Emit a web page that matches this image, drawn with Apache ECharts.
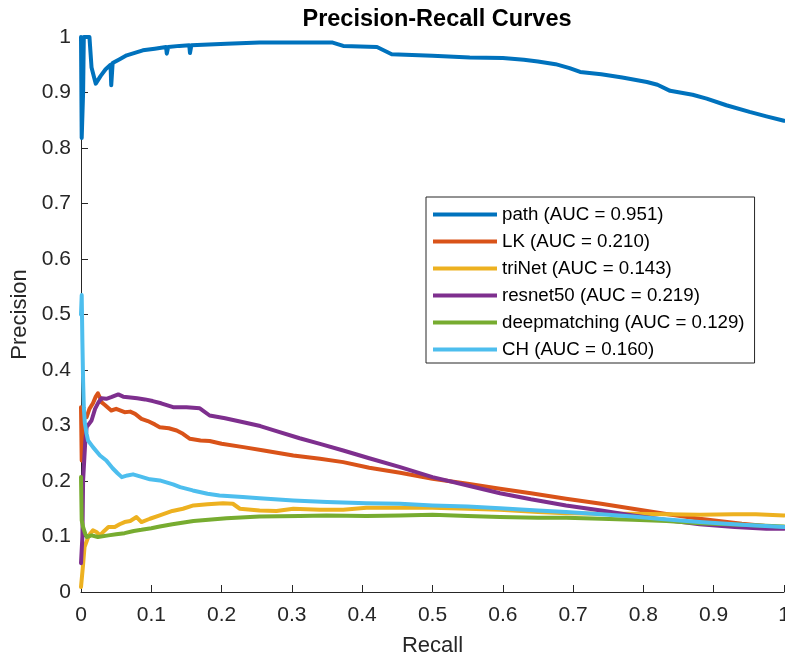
<!DOCTYPE html>
<html>
<head>
<meta charset="utf-8">
<script src="https://cdn.jsdelivr.net/npm/echarts@6/dist/echarts.min.js"></script>
<style>
  html, body { margin: 0; padding: 0; background: #ffffff; }
  #chart { width: 785px; height: 658px; }
</style>
</head>
<body>
<div id="chart"></div>
<script>
// Precision-recall curves: [recall, precision] pairs per method
const pathPR = [[0.000,1.000],[0.001,0.818],[0.003,0.900],[0.004,1.000],[0.012,1.000],[0.015,0.945],[0.018,0.930],[0.021,0.916],[0.028,0.930],[0.035,0.942],[0.042,0.950],[0.043,0.913],[0.045,0.953],[0.055,0.960],[0.065,0.967],[0.088,0.976],[0.105,0.979],[0.121,0.982],[0.122,0.970],[0.124,0.982],[0.140,0.984],[0.154,0.985],[0.155,0.971],[0.157,0.985],[0.207,0.988],[0.254,0.990],[0.300,0.990],[0.358,0.990],[0.373,0.984],[0.421,0.982],[0.442,0.969],[0.500,0.966],[0.553,0.963],[0.600,0.962],[0.630,0.959],[0.650,0.956],[0.675,0.951],[0.695,0.944],[0.710,0.937],[0.740,0.933],[0.770,0.927],[0.805,0.919],[0.820,0.914],[0.838,0.903],[0.870,0.896],[0.890,0.889],[0.918,0.877],[0.951,0.865],[0.975,0.857],[1.000,0.849]];
const lkPR = [[0.000,0.333],[0.001,0.237],[0.003,0.300],[0.005,0.320],[0.008,0.315],[0.012,0.330],[0.017,0.340],[0.021,0.352],[0.024,0.358],[0.027,0.350],[0.029,0.342],[0.034,0.337],[0.043,0.327],[0.050,0.330],[0.062,0.324],[0.070,0.325],[0.077,0.321],[0.086,0.312],[0.095,0.308],[0.105,0.302],[0.112,0.297],[0.125,0.295],[0.136,0.291],[0.145,0.285],[0.155,0.276],[0.170,0.273],[0.183,0.272],[0.200,0.267],[0.231,0.261],[0.260,0.255],[0.302,0.246],[0.340,0.240],[0.373,0.234],[0.410,0.224],[0.454,0.215],[0.500,0.204],[0.550,0.195],[0.596,0.186],[0.640,0.178],[0.690,0.168],[0.740,0.159],[0.785,0.150],[0.830,0.141],[0.880,0.132],[0.940,0.123],[1.000,0.116]];
const triNetPR = [[0.000,0.009],[0.003,0.050],[0.005,0.081],[0.010,0.098],[0.013,0.105],[0.017,0.111],[0.022,0.108],[0.027,0.102],[0.033,0.110],[0.039,0.117],[0.048,0.117],[0.055,0.122],[0.062,0.126],[0.070,0.128],[0.079,0.135],[0.086,0.126],[0.098,0.132],[0.112,0.138],[0.130,0.146],[0.145,0.150],[0.160,0.156],[0.180,0.158],[0.202,0.160],[0.216,0.159],[0.226,0.150],[0.254,0.147],[0.278,0.146],[0.302,0.150],[0.340,0.148],[0.373,0.148],[0.406,0.152],[0.454,0.152],[0.500,0.152],[0.550,0.150],[0.596,0.148],[0.650,0.144],[0.690,0.142],[0.740,0.141],[0.785,0.141],[0.833,0.140],[0.880,0.139],[0.928,0.140],[0.960,0.140],[1.000,0.138]];
const resnet50PR = [[0.000,0.052],[0.002,0.100],[0.003,0.201],[0.006,0.270],[0.008,0.297],[0.015,0.309],[0.020,0.330],[0.025,0.342],[0.029,0.349],[0.036,0.348],[0.043,0.351],[0.053,0.356],[0.060,0.352],[0.067,0.351],[0.080,0.349],[0.091,0.347],[0.102,0.344],[0.114,0.340],[0.131,0.333],[0.150,0.333],[0.169,0.331],[0.183,0.318],[0.205,0.313],[0.231,0.306],[0.255,0.299],[0.278,0.290],[0.311,0.277],[0.340,0.267],[0.373,0.255],[0.410,0.241],[0.454,0.225],[0.500,0.207],[0.550,0.192],[0.596,0.178],[0.640,0.167],[0.690,0.156],[0.740,0.147],[0.785,0.138],[0.830,0.130],[0.880,0.122],[0.930,0.117],[0.975,0.114],[1.000,0.114]];
const deepmatchingPR = [[0.000,0.207],[0.001,0.129],[0.003,0.117],[0.006,0.105],[0.008,0.099],[0.015,0.102],[0.024,0.099],[0.039,0.102],[0.050,0.104],[0.062,0.106],[0.075,0.110],[0.086,0.112],[0.100,0.115],[0.112,0.118],[0.130,0.122],[0.160,0.128],[0.207,0.133],[0.254,0.136],[0.311,0.137],[0.349,0.138],[0.406,0.137],[0.454,0.138],[0.500,0.139],[0.550,0.137],[0.596,0.135],[0.650,0.134],[0.690,0.134],[0.740,0.132],[0.785,0.130],[0.833,0.128],[0.880,0.124],[0.940,0.121],[1.000,0.118]];
const chPR = [[0.000,0.500],[0.001,0.535],[0.002,0.450],[0.003,0.380],[0.004,0.333],[0.0055,0.304],[0.008,0.285],[0.010,0.273],[0.017,0.261],[0.027,0.246],[0.036,0.237],[0.045,0.223],[0.052,0.214],[0.058,0.207],[0.066,0.210],[0.074,0.212],[0.085,0.208],[0.098,0.203],[0.112,0.201],[0.131,0.194],[0.141,0.189],[0.159,0.183],[0.180,0.177],[0.197,0.174],[0.230,0.171],[0.254,0.169],[0.302,0.165],[0.350,0.162],[0.406,0.160],[0.454,0.159],[0.500,0.156],[0.550,0.154],[0.596,0.151],[0.650,0.147],[0.690,0.144],[0.740,0.140],[0.785,0.136],[0.830,0.131],[0.880,0.126],[0.940,0.121],[1.000,0.117]];

const seriesNames = ['path (AUC = 0.951)', 'LK (AUC = 0.210)', 'triNet (AUC = 0.143)',
  'resnet50 (AUC = 0.219)', 'deepmatching (AUC = 0.129)', 'CH (AUC = 0.160)'];
const seriesData = [pathPR, lkPR, triNetPR, resnet50PR, deepmatchingPR, chPR];
const seriesColors = ['#0072BD', '#D95319', '#EDB120', '#7E2F8E', '#77AC30', '#4DBEEE'];

const xTickLabels = ['0', '0.1', '0.2', '0.3', '0.4', '0.5', '0.6', '0.7', '0.8', '0.9', '1'];
const yTickLabels = ['0', '0.1', '0.2', '0.3', '0.4', '0.5', '0.6', '0.7', '0.8', '0.9', '1'];

const axisColor = '#262626';
const fontFamily = '"Liberation Sans", Arial, Helvetica, sans-serif';

const chart = echarts.init(document.getElementById('chart'), null, { renderer: 'canvas' });

chart.setOption({
  animation: false,
  backgroundColor: '#ffffff',
  title: {
    text: 'Precision-Recall Curves',
    left: 432,
    top: 3,
    textAlign: 'center',
    textStyle: { fontFamily, fontSize: 23.5, fontWeight: 'bold', color: '#000000' }
  },
  grid: { left: 81, right: 1, top: 37, bottom: 66, containLabel: false, outerBoundsMode: 'none' },
  xAxis: {
    type: 'value', min: 0, max: 1, interval: 0.1,
    name: 'Recall', nameLocation: 'middle', nameGap: 43,
    nameTextStyle: { fontFamily, fontSize: 22, color: axisColor },
    axisLine: { show: true, lineStyle: { color: axisColor, width: 1 } },
    axisTick: { show: true, inside: true, length: 7, lineStyle: { color: axisColor } },
    axisLabel: {
      fontFamily, fontSize: 21, color: axisColor, margin: 13,
      hideOverlap: false,
      formatter: (v) => xTickLabels[Math.round(v * 10)]
    },
    splitLine: { show: false }
  },
  yAxis: {
    type: 'value', min: 0, max: 1, interval: 0.1,
    name: 'Precision', nameLocation: 'middle', nameGap: 50, nameRotate: 90,
    nameTextStyle: { fontFamily, fontSize: 22, color: axisColor },
    axisLine: { show: true, lineStyle: { color: axisColor, width: 1 } },
    axisTick: { show: true, inside: true, length: 7, lineStyle: { color: axisColor } },
    axisLabel: {
      fontFamily, fontSize: 21, color: axisColor, margin: 10,
      formatter: (v) => yTickLabels[Math.round(v * 10)]
    },
    splitLine: { show: false }
  },
  legend: {
    orient: 'vertical',
    left: 426, top: 197,
    padding: [8, 10, 4, 7],
    itemGap: 8,
    itemWidth: 64, itemHeight: 4,
    borderColor: axisColor, borderWidth: 1,
    backgroundColor: '#ffffff',
    textStyle: { fontFamily, fontSize: 18.7, color: '#000000' },
    data: seriesNames.map((n) => ({ name: n, icon: 'rect' }))
  },
  series: seriesData.map((d, i) => ({
    name: seriesNames[i],
    type: 'line',
    data: d,
    showSymbol: false,
    symbol: 'none',
    smooth: false,
    clip: true,
    color: seriesColors[i],
    lineStyle: { width: 4, color: seriesColors[i], join: 'round', cap: 'round' },
    emphasis: { disabled: true }
  }))
});
</script>
</body>
</html>
